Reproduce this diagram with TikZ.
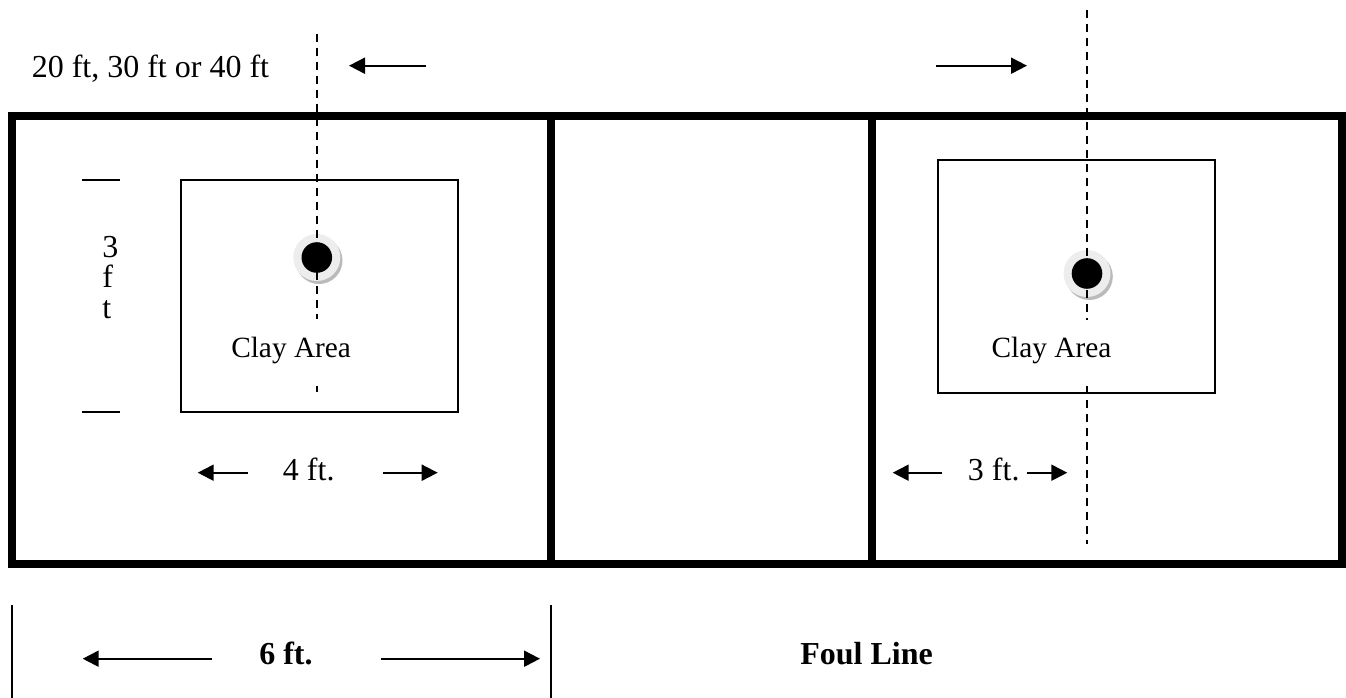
\documentclass[tikz,border=0pt]{standalone}
\usepackage{fontspec}
\setmainfont{Liberation Serif}
\usetikzlibrary{arrows.meta}
\tikzset{
  heavy/.style={line width=6pt,line cap=butt,line join=miter},
  thin box/.style={draw=black,line width=1.5pt,fill=none},
  rule/.style={draw=black,line width=1.5pt},
  center line/.style={draw=black,line width=1.5pt,dash pattern=on 6pt off 4.5pt},
  dim/.style={draw=black,line width=1.5pt,-{Triangle[length=12pt,width=12pt]}},
  big/.style={anchor=base west,inner sep=0pt,font=\fontsize{24}{24}\selectfont},
  clay/.style={anchor=base west,inner sep=0pt,font=\fontsize{22}{22}\selectfont},
  strong/.style={anchor=base west,inner sep=0pt,font=\fontsize{24}{24}\selectfont\bfseries},
  stake shadow/.style={fill=black!27,draw=none},
  stake ring/.style={fill=black!7,draw=none},
  stake core/.style={fill=black,draw=none}
}
\begin{document}
\begin{tikzpicture}[x=0.75pt,y=-0.75pt]
\useasboundingbox (0,0) rectangle (1346,698);
% lane frame
\draw[heavy] (11.7,116) rectangle (1342,564);
\draw[heavy] (551,116) -- (551,564);
\draw[heavy] (871.5,116) -- (871.5,564);
% clay boxes
\draw[thin box] (180.5,180) rectangle (457.7,412);
\draw[thin box] (937.5,160.5) rectangle (1215,393);
% stakes
\fill[stake shadow] (319,260.5) circle (23.5);
\fill[stake ring] (316.8,257.5) circle (23.5);
\fill[stake shadow] (1089.3,276.5) circle (23.5);
\fill[stake ring] (1087,273.5) circle (23.5);
% centre lines
\draw[center line] (317,34) -- (317,319);
\draw[center line] (317,386) -- (317,392.5);
\draw[center line] (1087,10) -- (1087,320);
\draw[center line] (1087,386) -- (1087,544);
\fill[stake core] (316.8,257.5) circle (15.3);
\fill[stake core] (1087,273.5) circle (15.3);
% height ticks
\draw[rule] (82,180) -- (120,180);
\draw[rule] (82,412) -- (120,412);
% dimension rules
\draw[rule] (11.7,605) -- (11.7,698);
\draw[rule] (551,605) -- (551,698);
% arrows
\draw[dim] (425.7,65.7) -- (349,65.7);
\draw[dim] (935.7,65.7) -- (1027,65.7);
\draw[dim] (248,472.7) -- (197.7,472.7);
\draw[dim] (382.7,472.7) -- (437.7,472.7);
\draw[dim] (941.7,472.7) -- (892.7,472.7);
\draw[dim] (1027.3,472.7) -- (1067.3,472.7);
\draw[dim] (212.3,658.7) -- (82.7,658.7);
\draw[dim] (381,658.7) -- (540,658.7);
% labels
\node[big] (dist) at (31.5,78) {20 ft, 30 ft or 40 ft};
\node[big] (h3) at (102,258) {3};
\node[big] (hf) at (102,288) {f};
\node[big] (ht) at (102,319) {t};
\node[clay] (clayL) at (231,358) {Clay Area};
\node[clay] (clayR) at (991.3,358) {Clay Area};
\node[big] (four) at (282.7,480) {4 ft.};
\node[big] (three) at (967.7,480) {3 ft.};
\node[strong] (six) at (259,664) {6 ft.};
\node[strong] (foul) at (800,664) {Foul Line};
\end{tikzpicture}
\end{document}
